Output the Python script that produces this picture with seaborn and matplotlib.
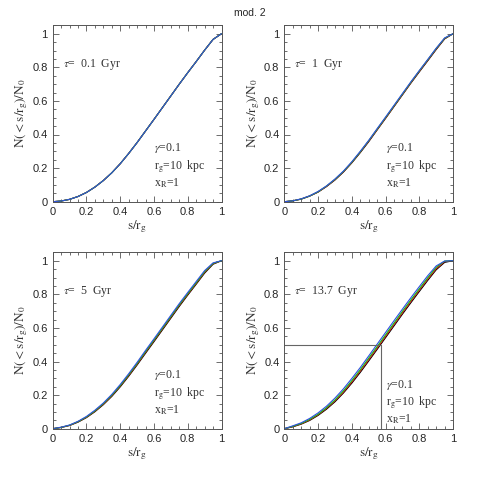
import numpy as np
import matplotlib
matplotlib.use("Agg")
import matplotlib.pyplot as plt
import seaborn as sns
from matplotlib.ticker import MultipleLocator

# s/r_g grid
s_grid = [0.0, 0.05, 0.1, 0.15, 0.2, 0.25, 0.3, 0.35, 0.4, 0.45, 0.5,
          0.55, 0.6, 0.65, 0.7, 0.75, 0.8, 0.85, 0.9, 0.95, 1.0]

# tau = 0.1 Gyr (all curves overlap)
tl_curve = [0, .004, .014, .031, .055, .087, .126, .172, .226, .287, .352,
            .421, .490, .560, .630, .700, .768, .834, .902, .966, 1.0]

# tau = 1 Gyr
tr_black = [0, .005, .015, .033, .057, .090, .129, .176, .231, .292, .357,
            .427, .496, .566, .636, .706, .773, .839, .906, .969, 1.0]
tr_red = [0, .005, .016, .034, .058, .091, .131, .178, .233, .295, .360,
          .429, .498, .568, .638, .708, .776, .842, .909, .971, 1.0]
tr_green = [0, .005, .016, .034, .059, .093, .133, .180, .235, .297, .363,
            .432, .501, .571, .641, .711, .779, .845, .912, .973, 1.0]
tr_blue = [0, .005, .017, .035, .061, .094, .135, .182, .238, .300, .365,
           .435, .504, .574, .644, .714, .781, .847, .914, .975, 1.0]

# tau = 5 Gyr
bl_black = [0, .007, .019, .039, .066, .101, .143, .192, .249, .312, .379,
            .449, .518, .588, .658, .728, .795, .860, .926, .979, 1.0]
bl_red = [0, .008, .020, .041, .068, .104, .146, .196, .254, .317, .384,
          .455, .524, .594, .664, .734, .800, .865, .931, .982, 1.0]
bl_green = [0, .008, .021, .042, .070, .106, .149, .199, .257, .321, .388,
            .459, .528, .598, .668, .738, .804, .869, .935, .984, 1.0]
bl_blue = [0, .009, .022, .044, .073, .110, .153, .204, .263, .327, .395,
           .466, .535, .605, .675, .745, .811, .876, .941, .987, 1.0]

# tau = 13.7 Gyr
br_black = [0, .011, .027, .049, .079, .116, .160, .212, .271, .335, .403,
            .472, .542, .612, .682, .750, .817, .883, .946, .990, 1.0]
br_red = [0, .013, .029, .052, .083, .121, .166, .218, .278, .343, .411,
          .480, .550, .620, .690, .758, .825, .891, .953, .995, 1.0]
br_green = [0, .014, .031, .055, .086, .125, .171, .225, .286, .351, .420,
            .489, .559, .629, .699, .767, .833, .899, .961, .998, 1.0]
br_blue = [0, .017, .035, .061, .094, .134, .182, .237, .299, .364, .433,
           .503, .573, .643, .712, .780, .846, .911, .969, .998, 1.0]

# half-mass point marked in the last panel
s_half = 0.572
n_half = 0.5

tau_labels = ["0.1", "1", "5", "13.7"]

sns.set_style("ticks")
plt.rcParams["font.family"] = ["Liberation Sans", "DejaVu Sans"]
plt.rcParams["mathtext.fontset"] = "stix"
plt.rcParams["xtick.direction"] = "in"
plt.rcParams["ytick.direction"] = "in"

colors = {"black": "black", "red": "#e01010", "green": "#10c010", "blue": "#3050e0"}

panels = [
    (tl_curve, tl_curve, tl_curve, tl_curve),
    (tr_black, tr_red, tr_green, tr_blue),
    (bl_black, bl_red, bl_green, bl_blue),
    (br_black, br_red, br_green, br_blue),
]

W = 479
fig = plt.figure(figsize=(W / 100, W / 100), dpi=100)
lefts = [52.7, 284.3, 52.7, 284.3]
bottoms = [201.7, 201.7, 428.7, 428.7]
wpx, hpx = 168.8, 176.4

serif = ["Liberation Serif", "DejaVu Serif"]
frame_col = "#555555"
text_col = "#333333"
fs_txt = 8.5

for i, curves in enumerate(panels):
    ax = fig.add_axes([lefts[i] / W, 1 - bottoms[i] / W, wpx / W, hpx / W])
    for name, vals in zip(["black", "red", "green", "blue"], curves):
        sns.lineplot(x=s_grid, y=vals, ax=ax, color=colors[name], lw=0.8)

    if i == 3:
        ax.plot([0, s_half], [n_half, n_half], color="#666666", lw=0.8)
        ax.plot([s_half, s_half], [0, n_half], color="#666666", lw=0.8)

    ax.set_xlim(0, 1)
    ax.set_ylim(0, 1.05)
    ax.xaxis.set_minor_locator(MultipleLocator(0.05))
    ax.yaxis.set_minor_locator(MultipleLocator(0.05))
    ax.set_xticks([0, 0.2, 0.4, 0.6, 0.8, 1.0])
    ax.set_xticklabels(["0", "0.2", "0.4", "0.6", "0.8", "1"])
    ax.set_yticks([0, 0.2, 0.4, 0.6, 0.8, 1.0])
    ax.set_yticklabels(["0", "0.2", "0.4", "0.6", "0.8", "1"])
    ax.tick_params(which="both", top=True, right=True, direction="in",
                   color=frame_col, width=0.6, labelsize=8, pad=3.5)
    ax.tick_params(which="major", length=4.5)
    ax.tick_params(which="minor", length=2.2)
    for sp in ax.spines.values():
        sp.set_color(frame_col)
        sp.set_linewidth(0.7)

    ax.set_xlabel(r"$\mathrm{s/r_g}$", fontsize=9.5, color=text_col, labelpad=1.5)
    ax.set_ylabel(r"$\mathrm{N({<}s/r_g)/N_0}$", fontsize=9.5, color=text_col,
                  labelpad=1.5)

    ax.text(0.06, 0.815, r"$\tau$=  " + tau_labels[i] + "  Gyr", family=serif,
            fontsize=fs_txt, color=text_col, va="center")
    dy = -0.055 if i == 3 else 0.0
    ax.text(0.6, 0.318 + dy, r"$\gamma$=0.1", family=serif, fontsize=fs_txt,
            color=text_col, va="center")
    ax.text(0.6, 0.21 + dy, r"r$_\mathrm{g}$=10  kpc", family=serif, fontsize=fs_txt,
            color=text_col, va="center")
    ax.text(0.6, 0.11 + dy, r"x$_\mathrm{R}$=1", family=serif, fontsize=fs_txt,
            color=text_col, va="center")

fig.text(0.522, 0.973, "mod. 2", ha="center", va="center", fontsize=7.5)

plt.savefig("out.png", dpi=100)
